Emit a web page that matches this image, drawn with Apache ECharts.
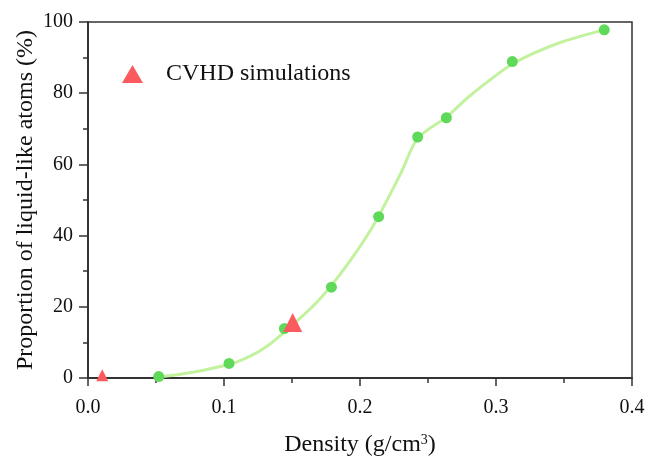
<!DOCTYPE html>
<html>
<head>
<meta charset="utf-8">
<script src="https://cdn.jsdelivr.net/npm/echarts@6/dist/echarts.min.js"></script>
<style>
  html, body { margin: 0; padding: 0; background: #fff; }
  #main { width: 647px; height: 456px; }
</style>
</head>
<body>
<div id="main"></div>
<script>
// simulation points (green dots)
var simX = [0.052, 0.1037, 0.1444, 0.179, 0.2137, 0.2424, 0.2635, 0.312, 0.3796];
var simY = [0.4, 4.1, 13.9, 25.5, 45.3, 67.7, 73.1, 88.9, 97.8];

// CVHD simulations (red triangles)
var cvhdX = [0.0105, 0.1505];
var cvhdY = [0.8, 15.6];
var cvhdSize = [12, 19];

// fitted curve
var fitX = [0.052, 0.07, 0.09, 0.11, 0.13, 0.15, 0.17, 0.19, 0.21, 0.23, 0.2424, 0.2635, 0.28, 0.30, 0.312, 0.33, 0.35, 0.3796];
var fitY = [0.3, 1.2, 2.6, 4.6, 8.5, 14.8, 22, 31.5, 43, 57.5, 67.3, 73.3, 79, 85, 88.2, 91.6, 94.6, 97.8];

var xTicks = [0, 0.1, 0.2, 0.3, 0.4];
var yTicks = [0, 20, 40, 60, 80, 100];

var font = 'Liberation Serif';

function pairs(xs, ys) {
    return xs.map(function (x, i) { return [x, ys[i]]; });
}

var myChart = echarts.init(document.getElementById('main'));

var option = {
    animation: false,
    grid: {
        left: 88, right: 15, top: 22, bottom: 78,
        outerBoundsMode: 'none',
        show: true,
        borderColor: '#333',
        borderWidth: 1.5
    },
    legend: {
        left: 117,
        top: 57,
        itemWidth: 21,
        itemHeight: 18,
        data: [{ name: 'CVHD simulations', icon: 'triangle' }],
        textStyle: { fontFamily: font, fontSize: 24, color: '#111', padding: [0, 0, 0, 18] }
    },
    xAxis: {
        type: 'value',
        min: xTicks[0],
        max: xTicks[xTicks.length - 1],
        interval: 0.1,
        name: 'Density (g/cm{sup|3})',
        nameLocation: 'middle',
        nameGap: 55,
        nameMoveOverlap: false,
        nameTextStyle: {
            fontFamily: font, fontSize: 24, color: '#111',
            rich: {
                sup: { fontFamily: font, fontSize: 14, color: '#111', verticalAlign: 'top', padding: [0, 0, 8, 0] }
            }
        },
        axisLine: { lineStyle: { color: '#333', width: 2 } },
        axisTick: { length: 8, lineStyle: { color: '#333', width: 1.5 } },
        minorTick: { show: true, splitNumber: 2, length: 5, lineStyle: { color: '#333', width: 1.5 } },
        splitLine: { show: false },
        axisLabel: {
            fontFamily: font, fontSize: 20, color: '#111', margin: 20,
            formatter: function (v) { return v.toFixed(1); }
        }
    },
    yAxis: {
        type: 'value',
        min: yTicks[0],
        max: yTicks[yTicks.length - 1],
        interval: 20,
        name: 'Proportion of liquid-like atoms (%)',
        nameLocation: 'middle',
        nameGap: 50,
        nameMoveOverlap: false,
        nameTextStyle: { fontFamily: font, fontSize: 24, color: '#111' },
        axisLine: { show: true, lineStyle: { color: '#333', width: 2 } },
        axisTick: { show: true, length: 9, lineStyle: { color: '#333', width: 1.5 } },
        minorTick: { show: true, splitNumber: 2, length: 5, lineStyle: { color: '#333', width: 1.5 } },
        splitLine: { show: false },
        axisLabel: { fontFamily: font, fontSize: 20, color: '#111', margin: 15 }
    },
    series: [
        {
            name: 'fit',
            type: 'line',
            data: pairs(fitX, fitY),
            smooth: 0.3,
            showSymbol: false,
            symbol: 'none',
            lineStyle: { color: '#c2f29e', width: 3 },
            z: 1
        },
        {
            name: 'sim',
            type: 'scatter',
            data: pairs(simX, simY),
            symbol: 'circle',
            symbolSize: 11,
            itemStyle: { color: '#5fd95a', opacity: 1 },
            z: 2
        },
        {
            name: 'CVHD simulations',
            type: 'scatter',
            data: pairs(cvhdX, cvhdY),
            symbol: 'triangle',
            symbolSize: function (val, p) { return cvhdSize[p.dataIndex]; },
            itemStyle: { color: '#fb5b5f', opacity: 1 },
            z: 3
        }
    ]
};

myChart.setOption(option);
</script>
</body>
</html>
